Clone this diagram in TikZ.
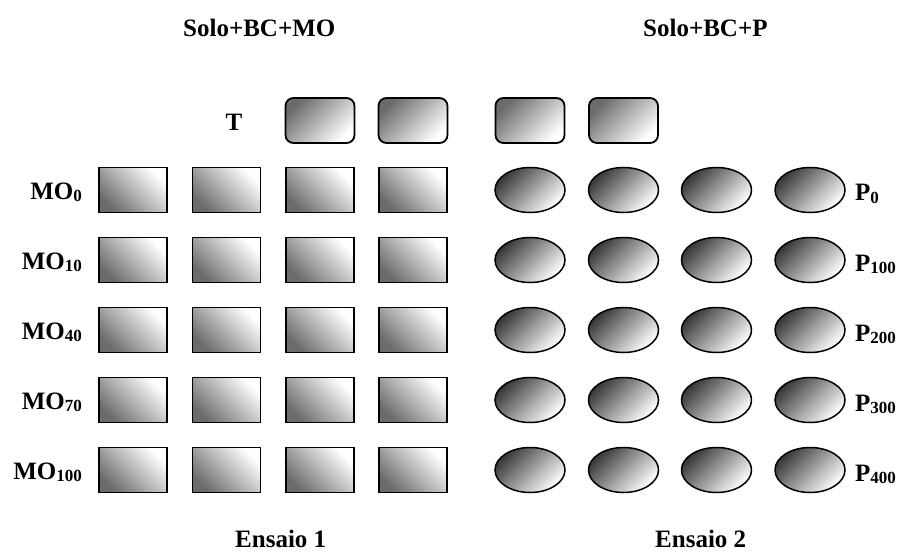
\documentclass[tikz,border=0pt]{standalone}
\usepackage{fontspec}
\setmainfont{Liberation Serif}
\usetikzlibrary{shapes.geometric}
\newcommand\lowidx[1]{\raisebox{-2pt}{\fontsize{17}{17}\selectfont #1}}
\tikzset{
  lbl/.style={font=\fontsize{25}{30}\selectfont\bfseries, inner sep=0pt},
  plotbox/.style={rectangle, draw=black, line width=1.8pt, inner sep=0pt,
    minimum width=68pt, minimum height=45pt,
    top color=white, bottom color=black!58, shading angle=-45},
  ctrlbox/.style={rectangle, rounded corners=8pt, draw=black, line width=1.8pt, inner sep=0pt,
    minimum width=69pt, minimum height=45pt,
    top color=black!58, bottom color=white, shading angle=45},
  potdisc/.style={ellipse, draw=black, line width=1.5pt, inner sep=0pt,
    minimum width=70pt, minimum height=45pt,
    top color=black!78, bottom color=white, shading angle=45},
}
\begin{document}
\begin{tikzpicture}[x=1pt,y=-1pt]
\useasboundingbox (0,0) rectangle (901,553);

% headings
\node[lbl, anchor=base west] (h1) at (183,37) {Solo+BC+MO};
\node[lbl, anchor=base west] (h2) at (643,37) {Solo+BC+P};
\node[lbl, anchor=base west] (e1) at (235,547) {Ensaio 1};
\node[lbl, anchor=base west] (e2) at (655,547) {Ensaio 2};

% control row
\node[lbl, anchor=base] (tl) at (234,131) {T};
\node[ctrlbox] (t3) at (320,120.5) {};
\node[ctrlbox] (t4) at (413,120.5) {};
\node[ctrlbox] (t5) at (530,120.5) {};
\node[ctrlbox] (t6) at (623.5,120.5) {};

% trial 1: organic matter doses
\foreach \r/\y/\d in {1/190/0, 2/260/10, 3/330/40, 4/400/70, 5/470/100} {
  \node[lbl, anchor=base east] (mo\r) at (82,\y+9.5) {MO\lowidx{\d}};
  \foreach \c/\x in {1/133, 2/226.5, 3/320, 4/413}
    \node[plotbox] (a\r\c) at (\x,\y) {};
}

% trial 2: phosphorus doses
\foreach \r/\y/\d in {1/190/0, 2/260/100, 3/330/200, 4/400/300, 5/470/400} {
  \node[lbl, anchor=base west] (p\r) at (855,\y+11) {P\lowidx{\d}};
  \foreach \c/\x in {1/530, 2/623.5, 3/716.5, 4/810}
    \node[potdisc] (b\r\c) at (\x,\y) {};
}
\end{tikzpicture}
\end{document}
